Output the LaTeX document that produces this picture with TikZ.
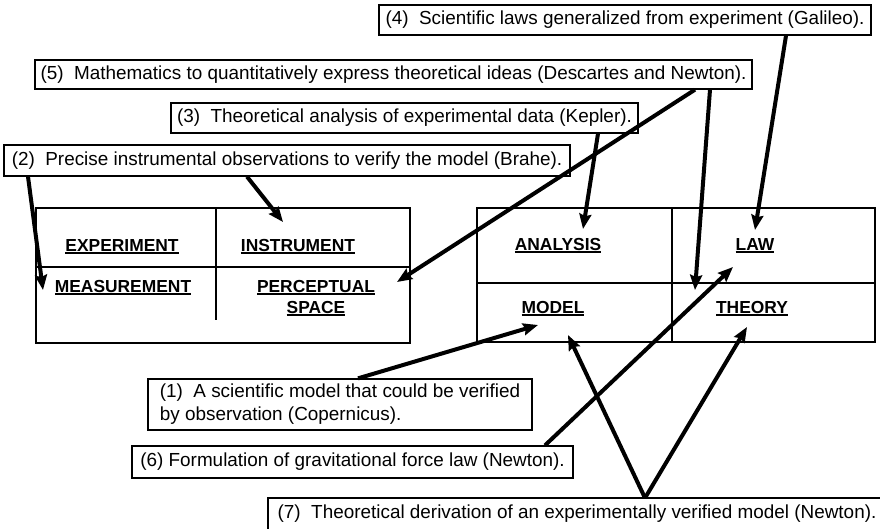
\documentclass[tikz,border=0pt]{standalone}
\usepackage{fontspec}
\setmainfont{Liberation Sans}
\usetikzlibrary{arrows.meta}
\newcommand\ulx[1]{\setbox0\hbox{#1}\rlap{\rule[-2.8pt]{\wd0}{1.4pt}}\box0}
\begin{document}
\begin{tikzpicture}[x=1pt,y=-1pt,
  lbl/.style={draw, line width=1.3pt, font=\fontsize{18.9}{23}\selectfont, inner sep=0pt},
  cell/.style={font=\fontsize{17.4}{21}\selectfont\bfseries, anchor=base, align=center, inner sep=0pt},
  grid/.style={line width=1.4pt},
  arr/.style={line width=4pt, -{Stealth[length=15pt,width=12pt,inset=2pt]}}]
\clip (0,0) rectangle (880,528);
\fill[white] (0,0) rectangle (880,528);

% tables
\draw[grid] (36,208) rectangle (410,343);
\draw[grid] (36,267) -- (410,267);
\draw[grid] (216,208) -- (216,320);
\draw[grid] (477,208) rectangle (875,342);
\draw[grid] (477,283) -- (875,283);
\draw[grid] (672,208) -- (672,342);

% cell labels
\node[cell] (exp) at (122,251) {\ulx{EXPERIMENT}};
\node[cell] (ins) at (298,251) {\ulx{INSTRUMENT}};
\node[cell] (mea) at (123,292) {\ulx{MEASUREMENT}};
\node[cell] (per) at (316,313) {\ulx{PERCEPTUAL}\\\ulx{SPACE}};
\node[cell] (ana) at (558,250) {\ulx{ANALYSIS}};
\node[cell] (law) at (755,250) {\ulx{LAW}};
\node[cell] (mod) at (553,313) {\ulx{MODEL}};
\node[cell] (the) at (752,313) {\ulx{THEORY}};

% label boxes
\node[lbl, minimum width=492pt, minimum height=30pt] (b4) at (625,20)
  {(4)~ Scientific laws generalized from experiment (Galileo).};
\node[lbl, minimum width=717pt, minimum height=29pt] (b5) at (393.5,74.5)
  {(5)~ Mathematics to quantitatively express theoretical ideas (Descartes and Newton).};
\node[lbl, minimum width=467pt, minimum height=30pt] (b3) at (404.5,118)
  {(3)~ Theoretical analysis of experimental data (Kepler).};
\node[lbl, minimum width=566pt, minimum height=31pt] (b2) at (287,160.5)
  {(2)~ Precise instrumental observations to verify the model (Brahe).};
\node[lbl, minimum width=384pt, minimum height=51pt, align=left] (b1) at (340,404.5)
  {(1)~ A scientific model that could be verified\\by observation (Copernicus).\hspace{4.5em}};
\node[lbl, minimum width=441pt, minimum height=32pt] (b6) at (352.5,462)
  {(6) Formulation of gravitational force law (Newton).};
\node[lbl, draw=none, anchor=north west, inner xsep=9pt, inner ysep=6pt,
  text height=13.5pt, text depth=4pt] (b7) at (268,498)
  {(7)~ Theoretical derivation of an experimentally verified model (Newton).};
\draw[line width=1.3pt] (b7.north west) ++(0,60) -- (b7.north west) -- ++(700,0);

% arrow ends
\coordinate (s1) at (358,379);   \coordinate (t1) at (538,325);
\coordinate (s2a) at (28,176);   \coordinate (t2a) at (43,290);
\coordinate (s2b) at (247,176);  \coordinate (t2b) at (283,222);
\coordinate (s3) at (598,133);   \coordinate (t3) at (583,229);
\coordinate (s4) at (786,35);    \coordinate (t4) at (755,230);
\coordinate (s5a) at (695,89);   \coordinate (t5a) at (397,282);
\coordinate (s5b) at (710,89);   \coordinate (t5b) at (695,290);
\coordinate (s6) at (545,446);   \coordinate (t6) at (733,267);
\coordinate (s7) at (645,498);   \coordinate (t7a) at (568,335);
\coordinate (t7b) at (747,327);

\draw[arr] (b1.north -| s1) -- (t1);
\draw[arr] (b2.south -| s2a) -- (t2a);
\draw[arr] (b2.south -| s2b) -- (t2b);
\draw[arr] (b3.south -| s3) -- (t3);
\draw[arr] (b4.south -| s4) -- (t4);
\draw[arr] (b5.south -| s5a) -- (t5a);
\draw[arr] (b5.south -| s5b) -- (t5b);
\draw[arr] (b6.north -| s6) -- (t6);
\draw[arr] (b7.north -| s7) -- (t7a);
\draw[arr] (b7.north -| s7) -- (t7b);
\end{tikzpicture}
\end{document}
